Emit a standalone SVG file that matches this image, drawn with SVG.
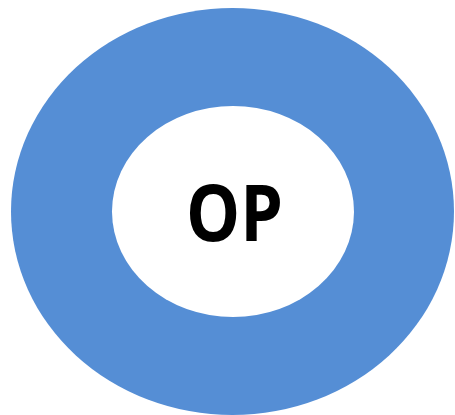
<svg xmlns="http://www.w3.org/2000/svg" width="455" height="415" viewBox="0 0 455 415">
<style>
.ring{fill:#558ED5}
.hole{fill:#FFFFFF}
.lbl{font-family:"Open Sans","Liberation Sans",sans-serif;font-weight:bold;font-size:78px;fill:#000}
</style>
<rect width="455" height="415" fill="#FFFFFF"/>
<g id="outer-ring">
<ellipse class="ring" cx="232.5" cy="211.5" rx="221.5" ry="203.5"/>
</g>
<g id="inner-node">
<ellipse class="hole" cx="233" cy="211.5" rx="121" ry="105.5"/>
<text class="lbl" x="234.5" y="241" text-anchor="middle" textLength="97" lengthAdjust="spacingAndGlyphs">OP</text>
</g>
<g id="connectors"/>
</svg>
